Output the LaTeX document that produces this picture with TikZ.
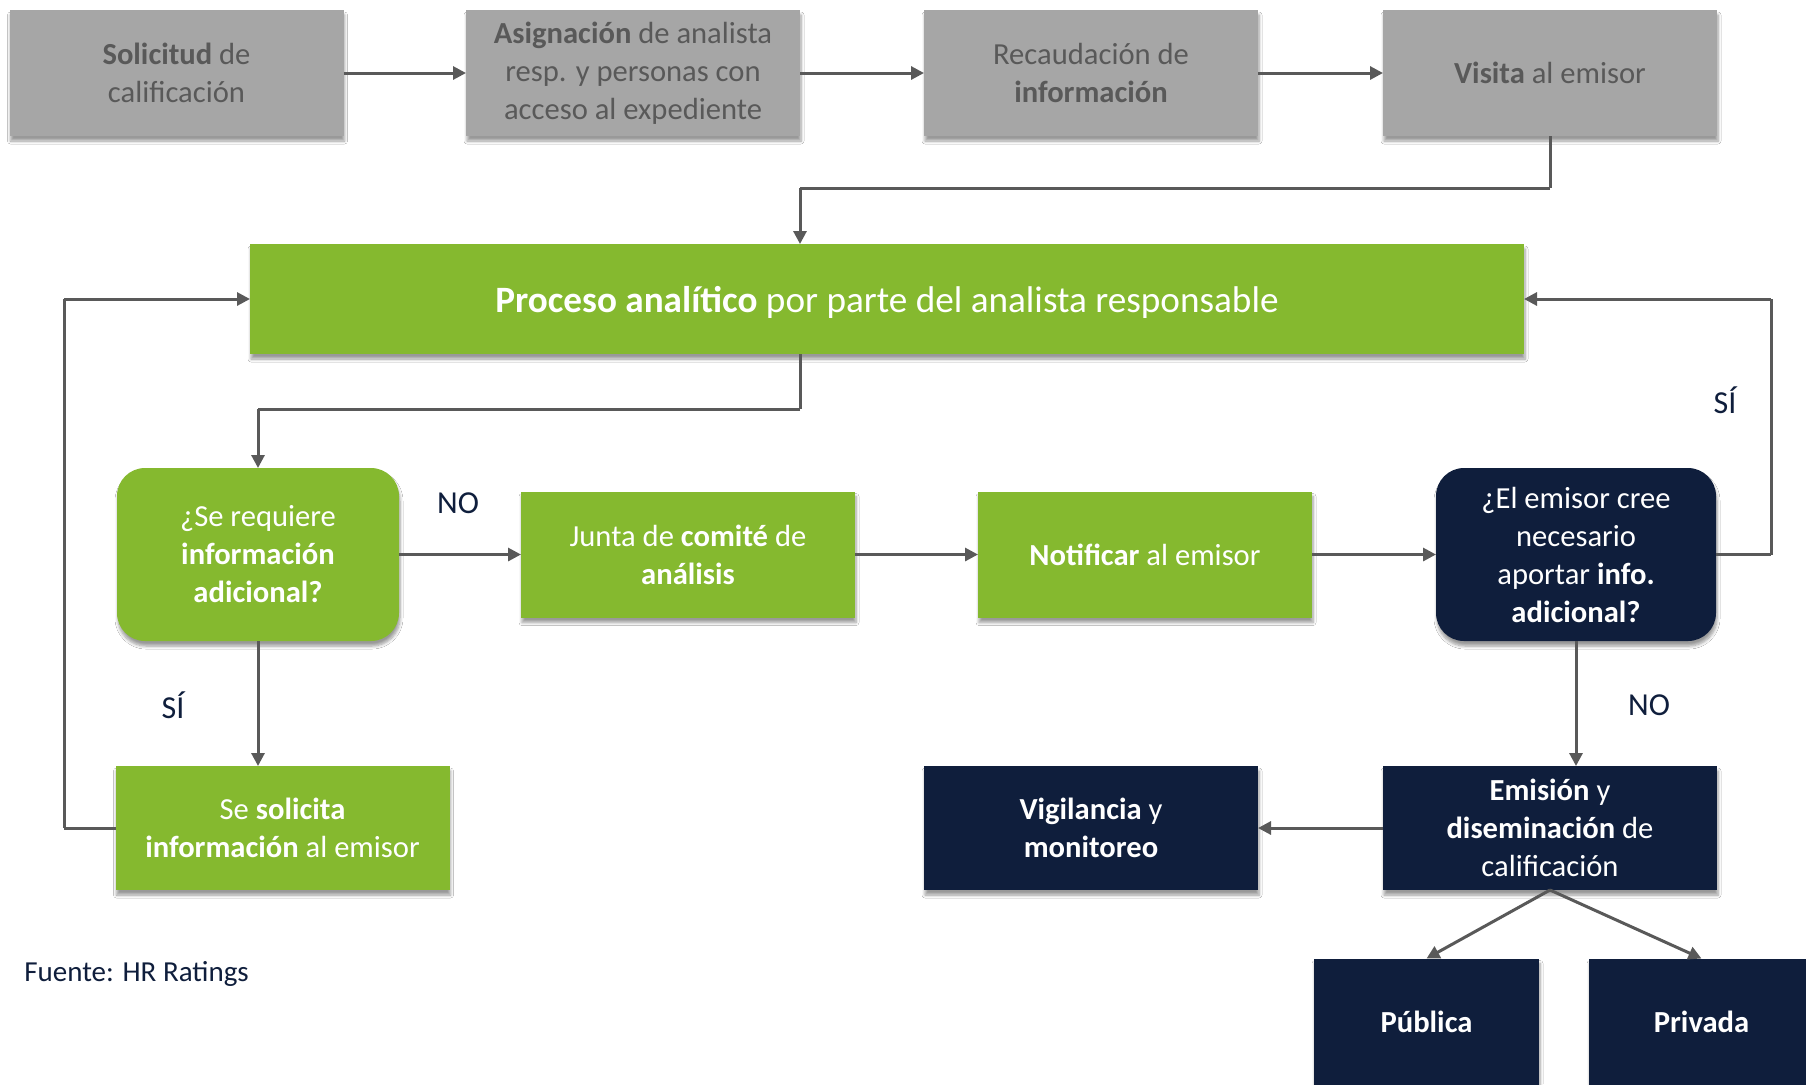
\documentclass[tikz,border=0pt]{standalone}
\usepackage{fontspec}
\setmainfont{Carlito}
\usepackage{tikz}
\usetikzlibrary{
  arrows.meta,
  chains,
  positioning,
  scopes,
  shadows.blur
}
\definecolor{hrgray}{HTML}{A6A6A6}
\definecolor{hrgraytext}{HTML}{595959}
\definecolor{hrgreen}{HTML}{85B92F}
\definecolor{hrnavy}{HTML}{0F1E3C}
\definecolor{hrline}{HTML}{595959}

\begin{document}
\begin{tikzpicture}[
      x=0.5pt,y=-0.5pt,
      box/.style={
         rectangle,
         inner sep=0pt,
         outer sep=0pt,
         align=center,
         font=\fontsize{15.3}{19}\selectfont,
         blur shadow={shadow xshift=0.5pt,shadow yshift=-2.5pt,
                      shadow blur steps=6,shadow blur radius=1.5pt,shadow opacity=40}
      },
      pending/.style={
         box,
         fill=hrgray,
         text=hrgraytext,
         minimum width=167pt,
         minimum height=63pt
      },
      process/.style={
         box,
         fill=hrgreen,
         text=white,
         minimum width=167pt,
         minimum height=63pt
      },
      question/.style={
         box,
         rounded corners=14pt,
         fill=hrgreen,
         text=white,
         minimum width=141pt,
         minimum height=86.5pt
      },
      outcome/.style={
         box,
         fill=hrnavy,
         text=white,
         minimum width=167pt,
         minimum height=62pt
      },
      answer/.style={
         inner sep=0pt,
         text=hrnavy,
         font=\fontsize{16}{19}\selectfont
      },
      point/.style={coordinate},
      >={Triangle[length=6.5pt,width=6.5pt]},
      tip/.style={->},
      every join/.style={draw=hrline,line width=1.5pt},
    ]
    \fill[white] (0,0) rectangle (1806,1084);
    \useasboundingbox (0,0) rectangle (1806,1084);
    \clip (0,0) rectangle (1806,1084);
    % upper row
    \node (sol)   [pending] at (176.5,73) {\textbf{Solicitud} de\\calificación};
    \node (asig)  [pending] at (633,73)   {\textbf{Asignación} de analista\\resp. y personas con\\acceso al expediente};
    \node (rec)   [pending] at (1091,73)  {Recaudación de\\\textbf{información}};
    \node (vis)   [pending] at (1550,73)  {\textbf{Visita} al emisor};
    \node (proc)  [process, minimum width=637pt, minimum height=55pt, text depth=0pt,
                   font=\fontsize{18.6}{22}\selectfont] at (887,299)
                  {\textbf{Proceso analítico} por parte del analista responsable};
    % middle row
    \node (dec1)  [question] at (258,554.5) {¿Se requiere\\\textbf{información}\\\textbf{adicional?}};
    \node (junta) [process]  at (688,554.5) {Junta de \textbf{comité} de\\\textbf{análisis}};
    \node (notif) [process]  at (1145,554.5) {\textbf{Notificar} al emisor};
    \node (dec2)  [question, fill=hrnavy, minimum width=140pt] at (1576,554.5)
                  {¿El emisor cree\\necesario\\aportar \textbf{info.}\\\textbf{adicional?}};
    % lower rows
    \node (sol2)  [process, minimum height=62pt] at (282.5,828) {Se \textbf{solicita}\\\textbf{información} al emisor};
    \node (vig)   [outcome] at (1091,828) {\textbf{Vigilancia} y\\\textbf{monitoreo}};
    \node (emis)  [outcome] at (1550,828) {\textbf{Emisión} y\\\textbf{diseminación} de\\calificación};
    \node (pub)   [outcome, minimum width=112.5pt, minimum height=63pt] at (1426.5,1021.5) {\textbf{Pública}};
    \node (priv)  [outcome, minimum width=112.5pt, minimum height=63pt] at (1701.5,1021.5) {\textbf{Privada}};
    % labels
    \node (no1) [answer] at (458,503)  {NO};
    \node (si1) [answer] at (173,705)  {SÍ};
    \node (si2) [answer] at (1725,400) {SÍ};
    \node (no2) [answer] at (1649,705) {NO};
    \node (src) [answer, anchor=west, font=\fontsize{14.5}{17}\selectfont] at (24,974) {Fuente: HR Ratings};
    % bend points
    \node (k1)  [point] at (vis |- 0,188) {};
    \node (k2)  [point] at (800,188) {};
    \node (k3)  [point] at (proc.north -| k2) {};
    \node (k4)  [point] at (proc.south -| k2) {};
    \node (k5)  [point] at (800,409) {};
    \node (k6)  [point] at (dec1 |- k5) {};
    \node (k7)  [point] at (dec2 -| 1771,0) {};
    \node (k8)  [point] at (proc -| k7) {};
    \node (k9)  [point] at (dec2 |- emis.north) {};
    \node (k10) [point] at (emis.south) {};
    \node (k11) [point] at (pub.north) {};
    \node (k12) [point] at (priv.north) {};
    \node (k13) [point] at (dec1 |- sol2.north) {};
    \node (k14) [point] at (sol2 -| 64,0) {};
    \node (k15) [point] at (proc -| k14) {};
  { [start chain]
       \chainin (sol);
       \chainin (asig)   [join=by tip];
       \chainin (rec)    [join=by tip];
       \chainin (vis)    [join=by tip];
       \chainin (k1)     [join];
       \chainin (k2)     [join];
       \chainin (k3)     [join=by tip];
  }
  { [start chain]
       \chainin (k4);
       \chainin (k5)     [join];
       \chainin (k6)     [join];
       \chainin (dec1)   [join=by tip];
  }
  { [start chain]
       \chainin (dec1);
       \chainin (junta)  [join=by tip];
       \chainin (notif)  [join=by tip];
       \chainin (dec2)   [join=by tip];
       \chainin (k7)     [join];
       \chainin (k8)     [join];
       \chainin (proc)   [join=by tip];
  }
  { [start chain]
       \chainin (dec2);
       \chainin (k9)     [join=by tip];
  }
  { [start chain]
       \chainin (emis);
       \chainin (vig)    [join=by tip];
  }
  { [start chain]
       \chainin (k10);
       \chainin (k11)    [join=by tip];
  }
  { [start chain]
       \chainin (k10);
       \chainin (k12)    [join=by tip];
  }
  { [start chain]
       \chainin (dec1);
       \chainin (k13)    [join=by tip];
  }
  { [start chain]
       \chainin (sol2);
       \chainin (k14)    [join];
       \chainin (k15)    [join];
       \chainin (proc)   [join=by tip];
  }
\end{tikzpicture}
\end{document}
